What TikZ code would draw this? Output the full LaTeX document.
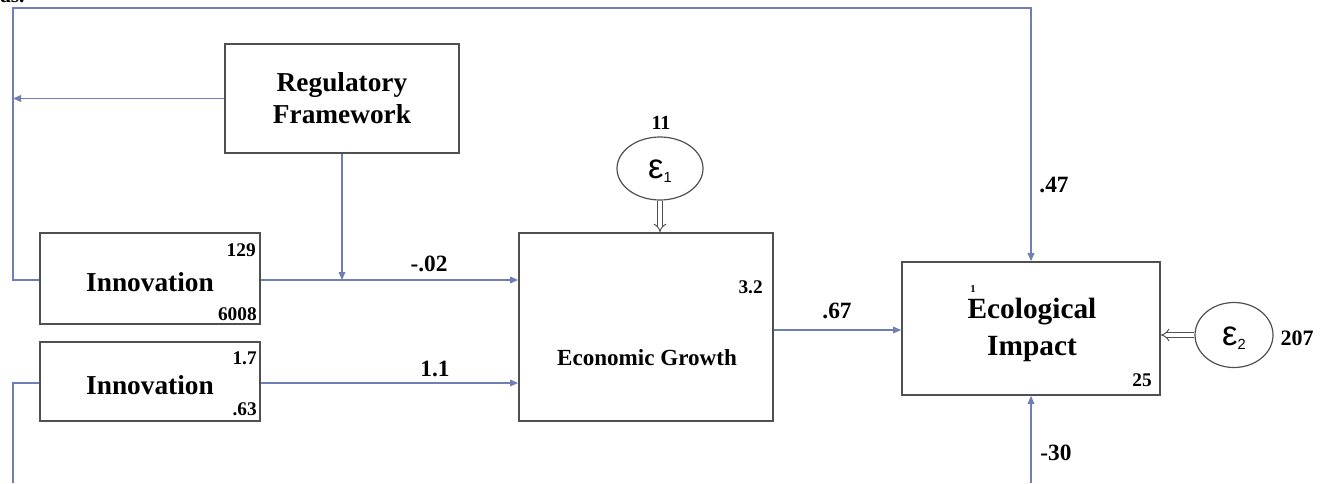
\documentclass[tikz,border=0pt]{standalone}
\usepackage{fontspec}
\setmainfont{Liberation Serif}
\newfontfamily\epsfont{Liberation Sans}
\usetikzlibrary{arrows.meta,shapes.geometric}
\definecolor{edgec}{RGB}{112,126,182}
\definecolor{boxc}{RGB}{80,80,80}
\tikzset{
  x=0.75pt, y=-0.75pt,
  varbox/.style={draw=boxc, line width=1.3pt, fill=white, inner sep=0pt, font=\bfseries},
  errell/.style={draw=boxc, line width=0.9pt, ellipse, inner sep=0pt},
  conn/.style={draw=edgec, line width=0.8pt},
  arr/.style={conn, -{Triangle[length=6pt,width=5pt]}},
  dbl/.style={draw=boxc, line width=0.7pt, double=white, double distance=2.6pt, -{Implies}},
  lab/.style={font=\bfseries\fontsize{17.5}{17.5}\selectfont, inner sep=0pt},
  num/.style={font=\bfseries\fontsize{14.5}{14.5}\selectfont, inner sep=0pt, anchor=east},
}
\begin{document}
\begin{tikzpicture}
\useasboundingbox (0,0) rectangle (1326,483);
% cropped text at top
\node[font=\bfseries\fontsize{16}{16}\selectfont, anchor=base west, inner sep=0pt] (as) at (0,2) {as.};
% boxes
\node[varbox, minimum width=175.5pt, minimum height=81.75pt, align=center,
      font=\bfseries\fontsize{20.5}{24}\selectfont] (reg) at (342,98.5) {Regulatory\\Framework};
\node[varbox, minimum width=165pt, minimum height=68.25pt] (inn1) at (150,278.5) {};
\node[varbox, minimum width=165pt, minimum height=59.25pt] (inn2) at (150,381.5) {};
\node[varbox, minimum width=190.5pt, minimum height=141pt] (econ) at (646,327) {};
\node[varbox, minimum width=193.5pt, minimum height=99.75pt] (ecol) at (1031,328.5) {};
% box texts
\node[font=\bfseries\fontsize{20.5}{20.5}\selectfont, inner sep=0pt] (inn1t) at (150,282) {Innovation};
\node[font=\bfseries\fontsize{20.5}{20.5}\selectfont, inner sep=0pt] (inn2t) at (150,385) {Innovation};
\node[font=\bfseries\fontsize{17.3}{17.3}\selectfont, inner sep=0pt] (econt) at (647,358) {Economic Growth};
\node[font=\bfseries\fontsize{22}{28}\selectfont, inner sep=0pt, align=center] (ecolt) at (1032,330) {Ecological\\Impact};
\node[font=\bfseries\fontsize{8}{8}\selectfont, inner sep=0pt] (one) at (973,289) {1};
\node[num] (n129) at (256,250) {129};
\node[num] (n6008) at (257,314) {6008};
\node[num] (n17) at (257,358) {1.7};
\node[num] (n63) at (257,409) {.63};
\node[num] (n32) at (763,287) {3.2};
\node[num] (n25) at (1152,380) {25};
% error ellipses
\node[errell, minimum width=64.5pt, minimum height=47.25pt] (e1) at (660,168.5) {};
\node[font=\epsfont\fontsize{26}{26}\selectfont, inner sep=0pt] (e1t) at (660,171) {ε\raisebox{-0.2ex}{\fontsize{11}{11}\selectfont 1}};
\node[errell, minimum width=58.5pt, minimum height=48.75pt] (e2) at (1234,335) {};
\node[font=\epsfont\fontsize{26}{26}\selectfont, inner sep=0pt] (e2t) at (1234,338) {ε\raisebox{-0.2ex}{\fontsize{11}{11}\selectfont 2}};
\node[lab, font=\bfseries\fontsize{15}{15}\selectfont] (v11) at (661,123) {11};
\node[lab, font=\bfseries\fontsize{16.5}{16.5}\selectfont] (v207) at (1297,338) {207};
% path labels
\node[lab] (l02) at (429,264) {-.02};
\node[lab] (l11) at (435,369) {1.1};
\node[lab] (l67) at (837,311) {.67};
\node[lab] (l47) at (1054,185) {.47};
\node[lab] (l30) at (1056,453) {-30};
% coordinates
\coordinate (tl) at (13,8);
\coordinate (tr) at (1031,8);
\coordinate (lreg) at (13,98.5);
\coordinate (l1) at (13,280);
\coordinate (l2) at (13,383);
\coordinate (lb) at (13,483);
\coordinate (bb) at (1031,483);
\coordinate (mid) at (342,280);
% connectors
\draw[arr] (inn1.west |- l1) -- (l1) -- (tl) -- (tr) -- (ecol.north);
\draw[arr] (reg.west) -- (lreg);
\draw[arr] (reg.south) -- (mid);
\draw[arr] (inn1.east |- l1) -- (econ.west |- l1);
\draw[arr] (inn2.east |- l2) -- (econ.west |- l2);
\draw[conn] (inn2.west |- l2) -- (l2) -- (lb);
\draw[arr] (econ.east |- 0,330) -- (ecol.west |- 0,330);
\draw[arr] (bb) -- (ecol.south);
\draw[dbl] (e1.south) -- (econ.north -| e1.south);
\draw[dbl] (e2.west) -- (ecol.east |- e2.west);
\end{tikzpicture}
\end{document}
